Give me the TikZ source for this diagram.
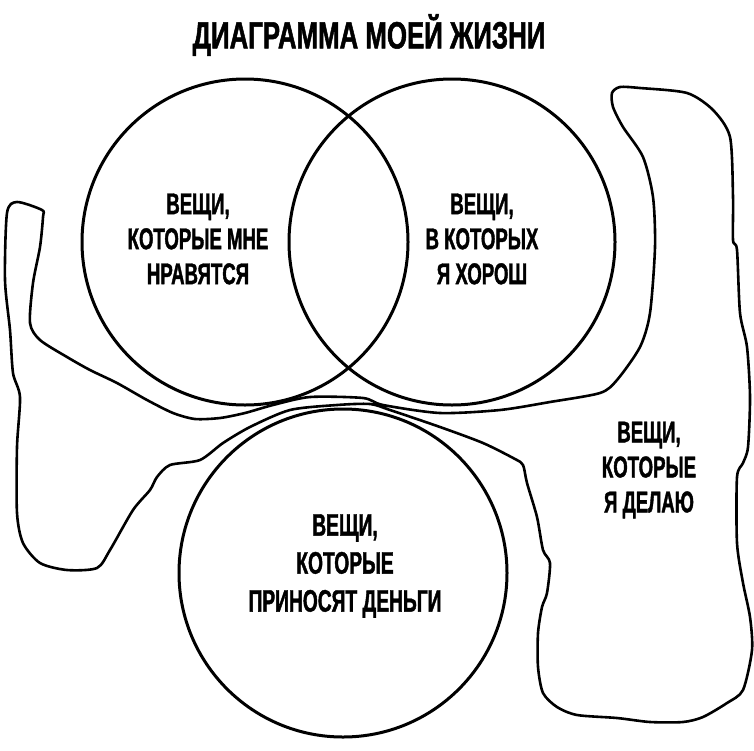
\documentclass[tikz,border=0pt]{standalone}
\usepackage{fontspec}
\newfontfamily\diagfont[FakeStretch=0.62, FakeBold=1.3]{Liberation Sans}
\newfontfamily\headfont[FakeStretch=0.68, FakeBold=1.3]{Liberation Sans}

\tikzset{
  ring/.style={line width=3pt},
  blobline/.style={line width=2.6pt, line join=round},
  caption/.style={align=center, font=\diagfont\bfseries\fontsize{30}{35}\selectfont},
  heading/.style={font=\headfont\bfseries\fontsize{38}{40}\selectfont}
}

\begin{document}
\begin{tikzpicture}[x=1pt,y=-1pt]
    \useasboundingbox (0,0) rectangle (754,750);
    % the things I do
    \draw[blobline] plot[smooth cycle, tension=0.45] coordinates {
        (17,202) (42,210) (43,217) (40,247) (33,283) (30,323) (40,340)
        (67,357) (90,370) (117,383) (147,400) (173,413) (195,419) (220,418)
        (245,413) (273,405) (310,397) (363,398) (383,405) (440,413) (500,410)
        (550,402) (600,393) (617,380) (640,347) (650,313) (655,247) (653,197)
        (643,157) (623,127) (613,107) (612,93) (620,87) (640,88) (687,93)
        (713,110) (730,137) (733,197) (733,240) (737,250) (740,313) (747,347)
        (750,397) (748,447) (743,463) (737,477) (737,543) (743,583) (750,617)
        (752,650) (743,690) (727,703) (703,717) (683,722) (650,722) (617,718)
        (577,715) (557,707) (543,693) (538,667) (538,633) (542,607) (547,593)
        (550,563) (543,550) (537,517) (527,483) (523,465) (515,459) (483,443)
        (440,427) (390,410) (370,404) (337,405) (290,410) (250,427) (223,443)
        (200,460) (170,465) (157,477) (150,490) (133,510) (110,550) (97,568)
        (67,570) (40,563) (23,543) (17,513) (17,447) (20,397) (13,373)
        (10,330) (5,280) (7,213)};
    % the three circles
    \draw[ring] (245,242) circle[radius=163pt];
    \draw[ring] (452,242) circle[radius=163pt];
    \draw[ring] (343,573) circle[radius=164pt];
    \node[heading] (title) at (369,35) {ДИАГРАММА МОЕЙ ЖИЗНИ};
    \node[caption] (likes) at (198,239) {ВЕЩИ,\\КОТОРЫЕ МНЕ\\НРАВЯТСЯ};
    \node[caption] (goodat) at (482,239) {ВЕЩИ,\\В КОТОРЫХ\\Я ХОРОШ};
    \node[caption, font=\diagfont\bfseries\fontsize{31}{38}\selectfont] (money) at (345,566) {ВЕЩИ,\\КОТОРЫЕ\\ПРИНОСЯТ ДЕНЬГИ};
    \node[caption] (doing) at (649,470) {ВЕЩИ,\\КОТОРЫЕ\\Я ДЕЛАЮ};
\end{tikzpicture}
\end{document}
